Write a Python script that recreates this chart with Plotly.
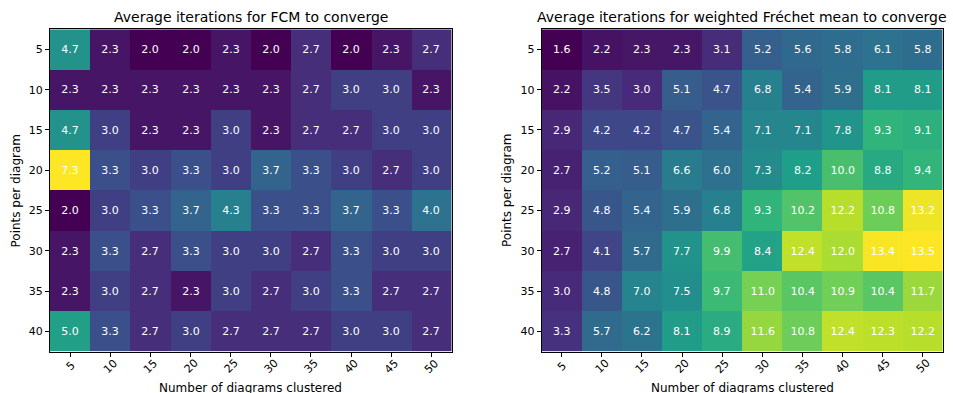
import plotly.graph_objects as go

n_diagrams = [5, 10, 15, 20, 25, 30, 35, 40, 45, 50]
points_per_diagram = [5, 10, 15, 20, 25, 30, 35, 40]

fcm_iters = [
    [4.7, 2.3, 2.0, 2.0, 2.3, 2.0, 2.7, 2.0, 2.3, 2.7],
    [2.3, 2.3, 2.3, 2.3, 2.3, 2.3, 2.7, 3.0, 3.0, 2.3],
    [4.7, 3.0, 2.3, 2.3, 3.0, 2.3, 2.7, 2.7, 3.0, 3.0],
    [7.3, 3.3, 3.0, 3.3, 3.0, 3.7, 3.3, 3.0, 2.7, 3.0],
    [2.0, 3.0, 3.3, 3.7, 4.3, 3.3, 3.3, 3.7, 3.3, 4.0],
    [2.3, 3.3, 2.7, 3.3, 3.0, 3.0, 2.7, 3.3, 3.0, 3.0],
    [2.3, 3.0, 2.7, 2.3, 3.0, 2.7, 3.0, 3.3, 2.7, 2.7],
    [5.0, 3.3, 2.7, 3.0, 2.7, 2.7, 2.7, 3.0, 3.0, 2.7],
]

frechet_iters = [
    [1.6, 2.2, 2.3, 2.3, 3.1, 5.2, 5.6, 5.8, 6.1, 5.8],
    [2.2, 3.5, 3.0, 5.1, 4.7, 6.8, 5.4, 5.9, 8.1, 8.1],
    [2.9, 4.2, 4.2, 4.7, 5.4, 7.1, 7.1, 7.8, 9.3, 9.1],
    [2.7, 5.2, 5.1, 6.6, 6.0, 7.3, 8.2, 10.0, 8.8, 9.4],
    [2.9, 4.8, 5.4, 5.9, 6.8, 9.3, 10.2, 12.2, 10.8, 13.2],
    [2.7, 4.1, 5.7, 7.7, 9.9, 8.4, 12.4, 12.0, 13.4, 13.5],
    [3.0, 4.8, 7.0, 7.5, 9.7, 11.0, 10.4, 10.9, 10.4, 11.7],
    [3.3, 5.7, 6.2, 8.1, 8.9, 11.6, 10.8, 12.4, 12.3, 12.2],
]

titles = ["Average iterations for FCM to converge",
          "Average iterations for weighted Fréchet mean to converge"]
x_title = "Number of diagrams clustered"
y_title = "Points per diagram"

W, H = 953, 393
FONT = "DejaVu Sans"

fig = go.Figure()
for i, z in enumerate([fcm_iters, frechet_iters]):
    fig.add_trace(go.Heatmap(
        x=n_diagrams, y=points_per_diagram, z=z,
        colorscale="Viridis", showscale=False,
        xaxis="x" if i == 0 else "x2", yaxis="y" if i == 0 else "y2",
        texttemplate="%{z:.1f}",
        textfont=dict(color="white", size=11, family=FONT),
        hoverinfo="skip",
    ))

dom_x = [[50 / W, 451.5 / W], [541.7 / W, 942.7 / W]]
dom_y = [1 - 351.5 / H, 1 - 29.3 / H]
ytitle_x = [15 / W, 506.5 / W]

axis_common = dict(showgrid=False, zeroline=False, showline=True, mirror=True,
                   automargin=False,
                   linecolor="black", linewidth=1, ticks="outside", ticklen=4,
                   tickcolor="black", tickfont=dict(family=FONT, size=11, color="black"))

layout = dict(width=W, height=H, margin=dict(l=0, r=0, t=0, b=0),
              plot_bgcolor="white", paper_bgcolor="white",
              font=dict(family=FONT, color="black"), annotations=[])

for i in range(2):
    sx = "" if i == 0 else "2"
    layout["xaxis" + sx] = dict(axis_common, domain=dom_x[i], anchor="y" + sx,
                                tickmode="array", tickvals=n_diagrams, showticklabels=False,
                                range=[2.5, 52.5])
    layout["yaxis" + sx] = dict(axis_common, domain=dom_y, anchor="x" + sx,
                                tickmode="array", tickvals=points_per_diagram,
                                range=[42.5, 2.5])
    # title
    layout["annotations"].append(dict(
        text=titles[i], xref="x%s domain" % sx, yref="paper", x=0.5, y=1 - 17 / H,
        xanchor="center", yanchor="middle", showarrow=False,
        font=dict(size=14, family=FONT, color="black")))
    # axis titles
    layout["annotations"].append(dict(
        text=x_title, xref="x%s domain" % sx, yref="paper", x=0.5, y=1 - 388 / H,
        xanchor="center", yanchor="middle", showarrow=False,
        font=dict(size=12, family=FONT, color="black")))
    layout["annotations"].append(dict(
        text=y_title, xref="paper", yref="paper", x=ytitle_x[i], y=1 - 190.5 / H,
        xanchor="center", yanchor="middle", textangle=-90, showarrow=False,
        font=dict(size=12, family=FONT, color="black")))
    # rotated tick labels
    for v in n_diagrams:
        layout["annotations"].append(dict(
            text=str(v), xref="x" + sx, yref="paper", x=v, y=1 - 366 / H,
            xanchor="center", yanchor="middle", textangle=-45, showarrow=False,
            font=dict(size=11, family=FONT, color="black")))

fig.update_layout(**layout)
fig.write_html("out.html", config={"displayModeBar": False},
               post_script="document.body.style.margin='0';document.body.style.overflow='hidden';")
